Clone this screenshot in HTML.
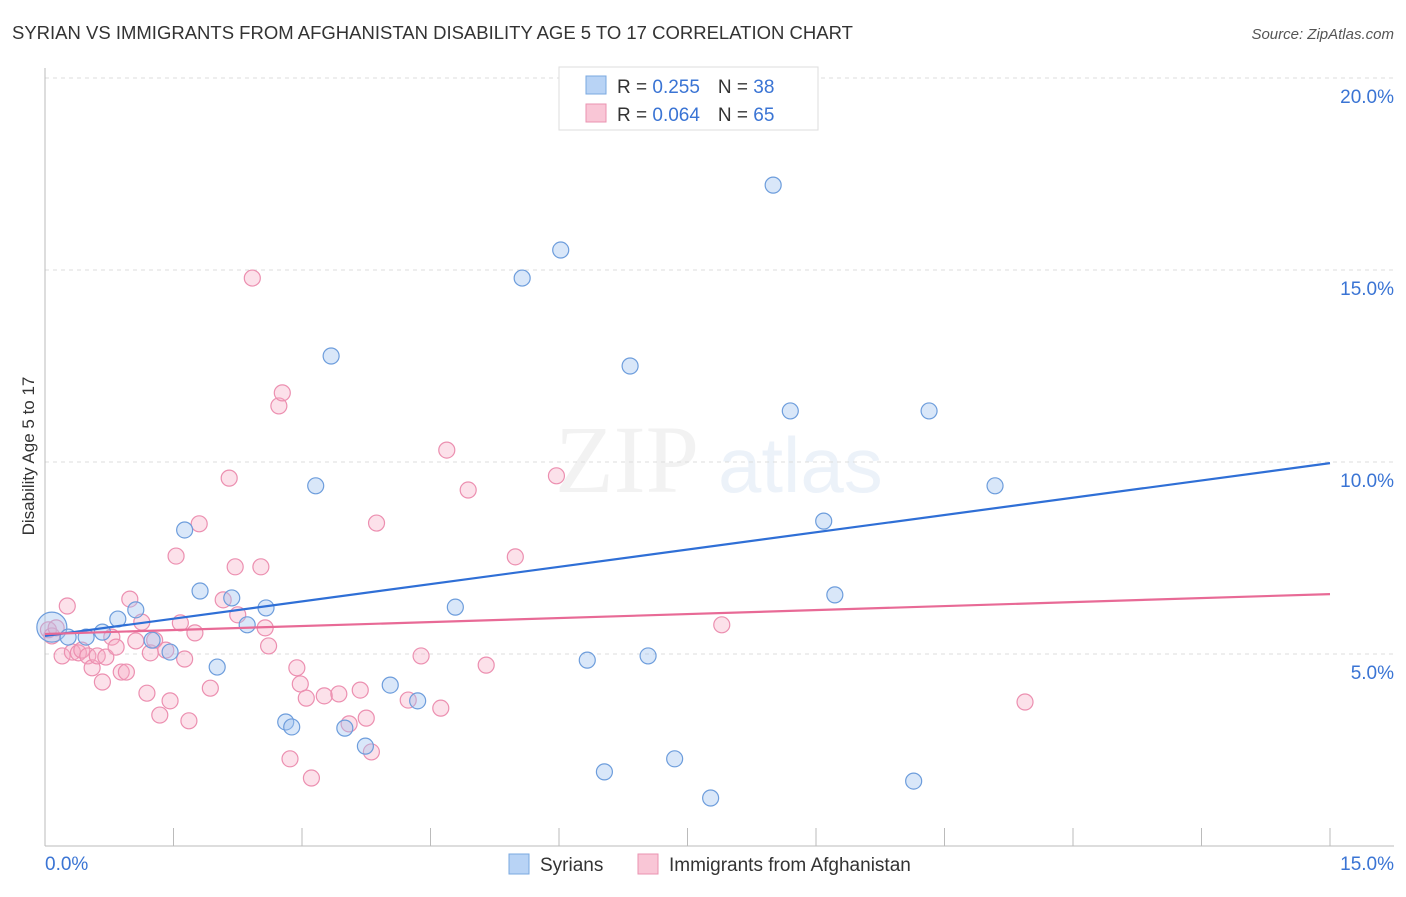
<!DOCTYPE html>
<html><head><meta charset="utf-8"><style>
body{margin:0;background:#fff;font-family:"Liberation Sans",sans-serif}
svg text{font-family:"Liberation Sans",sans-serif}
</style></head><body>
<svg id="chart" width="1406" height="892" viewBox="0 0 1406 892">
<text x="12" y="39" font-size="18.5" fill="#333">SYRIAN VS IMMIGRANTS FROM AFGHANISTAN DISABILITY AGE 5 TO 17 CORRELATION CHART</text>
<text x="1394" y="39" font-size="15" fill="#555" font-style="italic" text-anchor="end">Source: ZipAtlas.com</text>
<text x="34" y="456" font-size="17" fill="#333" text-anchor="middle" transform="rotate(-90 34 456)">Disability Age 5 to 17</text>
<g opacity="0.25"><text x="555" y="492" font-size="96" fill="#ccc" font-family="Liberation Serif" style="font-family:'Liberation Serif',serif">ZIP</text><text x="718" y="492" font-size="78" fill="#b8cdea">atlas</text></g>
<g id="grid"></g><g id="axes"></g><g id="pts"></g><g id="trend"></g>
<g>
<rect x="559" y="67" width="259" height="63" fill="#fff" stroke="#ddd"/>
<rect x="586" y="76" width="20" height="18" fill="#b8d3f5" stroke="#7aa8e0"/>
<rect x="586" y="104" width="20" height="18" fill="#f9c6d6" stroke="#ea93b0"/>
<text x="617" y="93" font-size="19" fill="#333">R = <tspan fill="#3a74d4"> 0.255</tspan><tspan dx="18" fill="#333">N = </tspan><tspan fill="#3a74d4">38</tspan></text>
<text x="617" y="121" font-size="19" fill="#333">R = <tspan fill="#3a74d4">0.064</tspan><tspan dx="18" fill="#333">N = </tspan><tspan fill="#3a74d4">65</tspan></text>
</g>
<g>
<rect x="509" y="854" width="20" height="20" fill="#b8d3f5" stroke="#7aa8e0"/>
<text x="540" y="871" font-size="19" fill="#333">Syrians</text>
<rect x="638" y="854" width="20" height="20" fill="#f9c6d6" stroke="#ea93b0"/>
<text x="669" y="871" font-size="19" fill="#333">Immigrants from Afghanistan</text>
</g>
</svg>
<script>
const xTicks=[0,1.5,3,4.5,6,7.5,9,10.5,12,13.5,15];
const yTicks=[5,10,15,20];
const yTickLabels=["5.0%","10.0%","15.0%","20.0%"];
const syrX=[0.08,0.27,0.48,0.67,0.85,1.06,1.25,1.46,1.63,1.81,2.01,2.18,2.36,2.58,2.81,2.88,3.16,3.34,3.50,3.74,4.03,4.35,4.79,5.57,6.02,6.33,6.53,6.83,7.04,7.35,7.77,8.50,8.70,9.09,9.22,10.14,10.32,11.09];
const syrY=[5.70,5.44,5.44,5.57,5.91,6.15,5.36,5.05,8.23,6.64,4.66,6.46,5.76,6.20,3.23,3.10,9.38,12.76,3.07,2.60,4.19,3.78,6.22,14.79,15.52,4.84,1.93,12.50,4.95,2.27,1.25,17.21,11.33,8.46,6.54,1.69,11.33,9.38];
const afgX=[0.04,0.08,0.13,0.20,0.26,0.32,0.39,0.43,0.50,0.55,0.61,0.67,0.71,0.78,0.83,0.89,0.95,0.99,1.06,1.13,1.19,1.23,1.28,1.34,1.41,1.46,1.53,1.58,1.63,1.68,1.75,1.80,1.93,2.08,2.15,2.22,2.25,2.42,2.52,2.57,2.61,2.73,2.77,2.86,2.94,2.98,3.05,3.11,3.26,3.43,3.55,3.68,3.75,3.81,3.87,4.24,4.39,4.62,4.69,4.94,5.15,5.49,5.97,7.90,11.44];
const afgY=[5.63,5.47,5.68,4.95,6.25,5.05,5.03,5.10,4.95,4.64,4.95,4.27,4.92,5.44,5.18,4.53,4.53,6.43,5.34,5.83,3.98,5.03,5.36,3.41,5.10,3.78,7.55,5.81,4.87,3.26,5.55,8.39,4.11,6.41,9.58,7.27,6.02,14.79,7.27,5.68,5.21,11.46,11.80,2.27,4.64,4.22,3.85,1.77,3.91,3.96,3.18,4.06,3.33,2.45,8.41,3.80,4.95,3.59,10.31,9.27,4.71,7.53,9.64,5.76,3.75];
const syrTrend=[5.47,9.97];
const afgTrend=[5.52,6.56];
const NS="http://www.w3.org/2000/svg";
const X=v=>45+v/15*1285, Y=v=>846-v*38.4;
function mk(t,a,p){const e=document.createElementNS(NS,t);for(const k in a)e.setAttribute(k,a[k]);p.appendChild(e);return e;}
const grid=document.getElementById('grid'),axes=document.getElementById('axes'),pts=document.getElementById('pts'),trend=document.getElementById('trend');
yTicks.forEach((t,i)=>{
 const l=mk('line',{x1:45,x2:1394,y1:Y(t),y2:Y(t),stroke:'#ddd','stroke-dasharray':'4,4'},grid);
 
 
 const tx=mk('text',{x:1394,y:Y(t)+25,'font-size':19,fill:'#3a74d4','text-anchor':'end'},axes);
 tx.textContent=yTickLabels[i];
 
 
});
const ax=mk('line',{x1:45,x2:45,y1:68,y2:846,stroke:'#bbb'},axes);


const bx=mk('line',{x1:45,x2:1394,y1:846,y2:846,stroke:'#bbb'},axes);


xTicks.forEach(t=>{const l=mk('line',{x1:X(t),x2:X(t),y1:828,y2:846,stroke:'#bbb'},axes);
 
 });
const x0=mk('text',{x:45,y:870,'font-size':19,fill:'#3a74d4'},axes);x0.textContent='0.0%';


const x1=mk('text',{x:1394,y:870,'font-size':19,fill:'#3a74d4','text-anchor':'end'},axes);x1.textContent='15.0%';


afgX.forEach((v,i)=>{const c=mk('circle',{cx:X(v),cy:Y(afgY[i]),r:8,fill:'rgba(246,170,196,0.35)',stroke:'#ec8fb0','stroke-width':1.2},pts);
 
 });
syrX.forEach((v,i)=>{const c=mk('circle',{cx:X(v),cy:Y(syrY[i]),r:i==0?15:8,fill:'rgba(160,196,240,0.4)',stroke:'#6d9ddc','stroke-width':1.2},pts);
 
 });
const t1=mk('line',{x1:X(0),y1:Y(syrTrend[0]),x2:X(15),y2:Y(syrTrend[1]),stroke:'#2f6fd6','stroke-width':2.2},trend);


const t2=mk('line',{x1:X(0),y1:Y(afgTrend[0]),x2:X(15),y2:Y(afgTrend[1]),stroke:'#e86a96','stroke-width':2.2},trend);


</script>
</body></html>
